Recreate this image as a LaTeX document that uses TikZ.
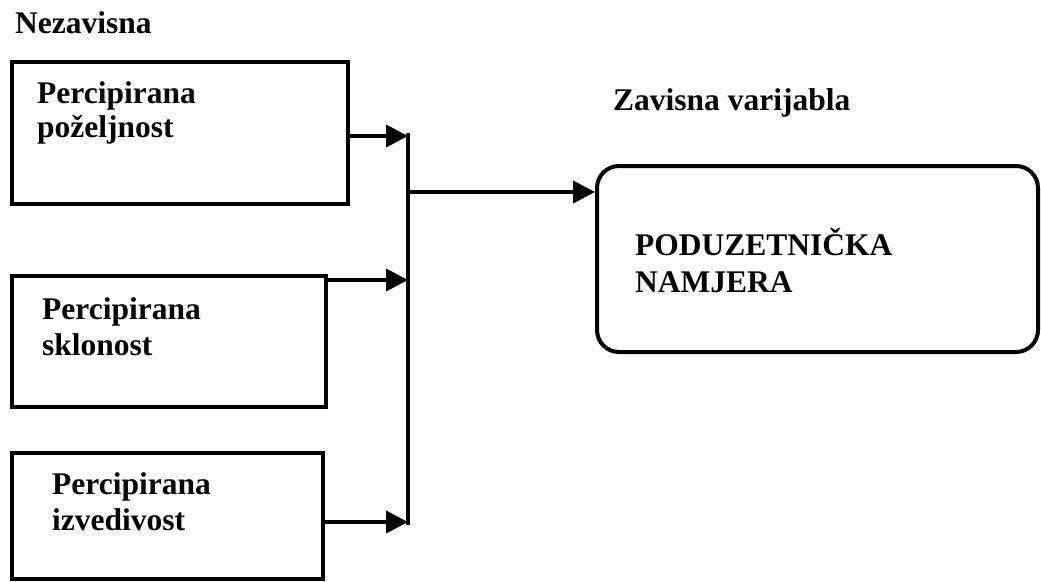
\documentclass[tikz,border=0pt]{standalone}
\usepackage{fontspec}
\setmainfont{Liberation Serif}
\usetikzlibrary{arrows.meta,calc}
\begin{document}
\begin{tikzpicture}[x=1pt,y=-1pt,
  lbl/.style={font=\fontsize{31.5}{36}\selectfont\bfseries, inner sep=0pt, anchor=base west, align=left},
  varbox/.style={draw=black, line width=4pt, inner sep=0pt, fill=none},
  conn/.style={draw=black, line width=4pt},
  arr/.style={conn, -{Triangle[length=22pt,width=22pt]}}
]
\useasboundingbox (0,0) rectangle (1041,581);
% boxes
\node[varbox, minimum width=336pt, minimum height=142pt] (b1) at (180,133) {};
\node[varbox, minimum width=314pt, minimum height=131pt] (b2) at (169,341.5) {};
\node[varbox, minimum width=311pt, minimum height=126pt] (b3) at (167.5,516) {};
\node[varbox, rounded corners=22pt, minimum width=441pt, minimum height=186pt] (rb) at (817.5,259) {};
% texts (anchor = baseline of last line)
\node[lbl] (tn) at (15,33) {Nezavisna};
\node[lbl] (tz) at (613,110) {Zavisna varijabla};
\node[lbl] (t1) at (37,137) {Percipirana\\[-2pt]poželjnost};
\node[lbl] (t2) at (42,355) {Percipirana\\sklonost};
\node[lbl] (t3) at (52,530) {Percipirana\\izvedivost};
\node[lbl] (tr) at (635,292) {PODUZETNIČKA\\[1pt]NAMJERA};
% junction coordinates
\coordinate (j1) at (408,136);
\coordinate (j2) at (408,280);
\coordinate (j3) at (408,522);
\coordinate (jm) at (408,192);
\coordinate (jtop) at (408,133);
\coordinate (jbot) at (408,525);
% connectors
\draw[conn] (jtop) -- (jbot);
\draw[arr] (b1.east |- j1) -- (j1);
\draw[arr] (b2.east |- j2) -- (j2);
\draw[arr] (b3.east |- j3) -- (j3);
\draw[arr] (jm) -- (rb.west |- jm);
\end{tikzpicture}
\end{document}
